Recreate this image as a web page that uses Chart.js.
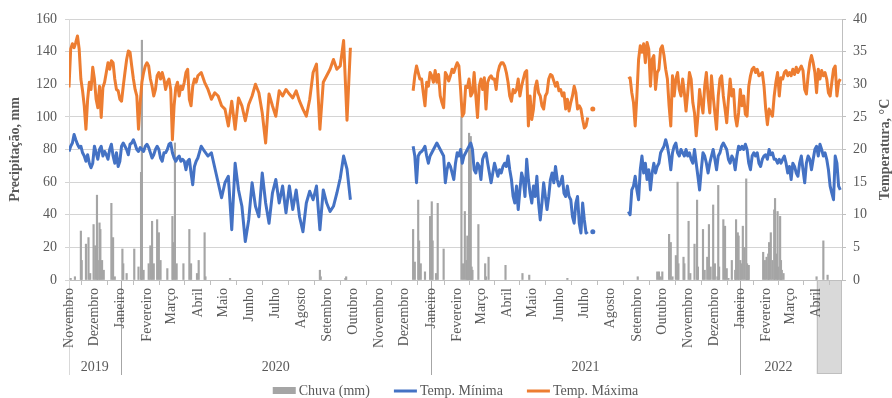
<!DOCTYPE html>
<html>
<head>
<meta charset="utf-8">
<script src="https://cdn.jsdelivr.net/npm/chart.js@4.4.1/dist/chart.umd.min.js"></script>
<style>
  html, body { margin: 0; padding: 0; background: #fff; }
  canvas { display: block; }
</style>
</head>
<body>
<canvas id="grafico" width="892" height="398"></canvas>
<script>
// dias de leitura a partir de 01/11/2019: [inicio, fim, passo]
const trechos = [[0, 152, 2], [156, 332, 4], [370, 370, 1], [406, 472, 2], [474, 612, 2], [616, 620, 2], [660, 790, 2], [792, 910, 2]];

// temperaturas máximas, °C (null = sem dados)
const tmax = [
  29.5, 35.4, 36.2, 35.6, 36.4, 37.4, 35.4, 30.8, 29, 26.7, 23.1, 27.7, 30.3, 29.2, 32.6, 30.8, 27.7, 26.4, 29.7, 24.9,
  29.5, 30.3, 31.8, 33.3, 32.3, 33.6, 33.3, 30.8, 29.2, 29, 27.7, 27.4, 29.7, 31.8, 33.8, 35.1, 34.9, 32.8, 30.8, 29.2,
  28.2, 23.1, 27.2, 30.3, 31.8, 32.8, 33.3, 32.8, 30.8, 29.7, 28.2, 29.2, 31.3, 31.8, 30.8, 31.8, 30.8, 29.2, 30.3, 30.8,
  29.2, 21.5, 26.7, 29.5, 30.3, 28.2, 29.7, 29.2, 30.3, 31.8, 32.3, 27.7, 26.7, 29.7, 30.8, 30.3, 31.3,
  // 2020, a cada 4 dias
  31.8, 30.3, 29.2, 27.7, 28.7, 28.2, 26.7, 26.2, 23.6, 27.4, 23.1, 27.9, 26.7, 24.4, 26.9, 28.2, 30, 28.7, 25.6, 21,
  28.5, 26.7, 25.1, 29, 28.2, 29.2, 28.5, 27.9, 29, 27.4, 26.2, 25.1, 27.7, 31.8, 33.1, 23.1, 30.3, 31.3, 32.3, 33.8,
  32.3, 32.8, 36.7, 24.5, 35.6,
  null,
  29, 31.3, 32.8, 31.8, 30.8, 30.8, 28.7, 26.7, 30.3, 29.7, 31.8, 31.3, 30.3, 32.1, 30.3, 31.5, 28.2, 27.2, 26.4, 31.8,
  31.3, 30.5, 31.3, 32.3, 31.8, 32.6, 33.3, 32.8, 29.2, 25.1, 25.6, 29.7, 29.5, 30.8,
  28.2, 28.7, 31.8, 28.2, 24.9, 29.7, 30.8, 29.2, 31, 26.2, 30.3, 31, 31.3, 30.8, 30.8, 29.2, 31.8, 32.8, 33.3, 33.3,
  32.8, 31.8, 30.3, 28.2, 27.4, 29.2, 28.7, 29.2, 30.8, 28.2, 29.7, 30.8, 31.8, 32.1, 23.6, 28.2, 24.6, 26.2, 29.5, 30.5,
  28.7, 28.2, 26.7, 26.2, 28.2, 28.7, 30.8, 31.5, 31.3, 30.5, 29.7, 30.3, 29, 29.2, 28.2, 28.7, 26.2, 27.7, 25.9, 27.2,
  28.2, 29.7, 28.7, 26.2, 26.7, 26.2, 24.6, 23.3, 23.6, 24.9,
  null, 26.2, null,
  30.8, 31, 28.7, 27.2, 23.6, 28.2, 33.8, 35.9, 34.9, 36.2, 33.3, 36.4, 35.4, 29.7, 33.8, 34.4, 29.2, 31.8, 32.3, 35.4,
  35.9, 34.4, 32.3, 30.8, 26.7, 23.6, 31.3, 28.2, 30.8, 31.8, 29.2, 28.2, 30.8, 28.7, 25.9, 28.7, 31.8, 30.8, 27.2, 25.6,
  22.1, 25.1, 29.2, 27.2, 25.6, 29.7, 31.8, 28.2, 25.6, 31.3, 28.2, 25.6, 23.1, 28.2, 30.8, 31.3, 28.2, 26.2, 24.1, 27.7,
  30.8, 28.2, 29.2, 25.1, 23.6, 25.6,
  29.2, 26.7, 28.2, 25.4, 25.1, 29.7, 31.3, 32.3, 32.6, 31.8, 32.3, 31.3, 31.5, 31.8, 29.7, 26.2, 23.8, 26.2, 25.6, 25.1,
  28.2, 30.3, 31.8, 28.2, 31, 30.8, 31.8, 32.1, 31.3, 31.8, 31.3, 32.3, 31.5, 32.6, 31.8, 32.3, 32.8, 32.1, 29.2, 28.5,
  31.3, 33.3, 34.4, 33.3, 31.8, 28.7, 32.3, 30.8, 32.1, 31.3, 31.8, 30.8, 28.7, 28.2, 30.3, 32.3, 32.8, 28.2, 30.3, 30.8
];

// temperaturas mínimas, °C
const tmin = [
  19.7, 20.5, 21, 22.3, 21.5, 20.8, 20.3, 20.5, 19.5, 19, 18.2, 19.2, 17.9, 17.2, 17.9, 20.5, 19.5, 18.5, 20, 20.5,
  19, 19.7, 19.2, 18.5, 20, 20.8, 19, 17.9, 19.5, 17.4, 18.2, 20.5, 21, 20.5, 20, 19.2, 20.8, 21, 21.5, 20.8,
  20, 19.7, 20.3, 20, 19.7, 20.5, 20.8, 20.3, 19.5, 18.7, 19.2, 20, 20.5, 20, 18.7, 18.2, 19.5, 19.5, 20, 20.8,
  21, 19.5, 18.7, 18.2, 18.7, 19, 18.2, 18.5, 18.2, 16.9, 18.2, 18.5, 16.4, 14.6, 17.4, 18.2, 18.7,
  20.5, 19.7, 19, 19.5, 17.2, 14.9, 12.6, 14.9, 15.9, 7.7, 17.9, 13.8, 11.3, 5.9, 9.2, 14.9, 11.3, 9.7, 16.4, 11.8,
  8.7, 13.3, 15.4, 11.8, 14.4, 10.3, 14.4, 10.8, 13.8, 9.7, 7.4, 11.8, 13.6, 12.3, 14.4, 7.7, 13.8, 11.8, 10.5, 11.3,
  13.3, 15.6, 19, 17, 12.3,
  null,
  20.5, 19, 14.9, 19, 19.5, 19.7, 20, 20.5, 19, 17.9, 19, 19.5, 20, 20.5, 21, 20.5, 20, 19.5, 19, 14.9,
  16.9, 17.9, 17.4, 16.4, 15.4, 17.9, 19.5, 19, 20, 17.9, 19, 19.5, 20, 20.5,
  21, 20, 16.9, 16.4, 17.9, 17.4, 15.4, 18.5, 19.2, 19.5, 17.9, 16.4, 14.9, 16.4, 17.9, 16.9, 15.9, 16.9, 16.4, 17.4,
  17.9, 17.4, 19, 16.9, 15.4, 12.8, 11.8, 14.4, 10.8, 13.8, 16.4, 15.4, 12.8, 18.5, 15.4, 13.3, 11.8, 14.4, 12.8, 15.9,
  11.8, 9.2, 11.8, 14.9, 12.8, 10.8, 12.8, 15.4, 16.4, 14.9, 17.4, 15.4, 14.4, 14.9, 15.9, 13.3, 12.8, 14.4, 12.8, 12.3,
  9.7, 8.7, 11.8, 12.8, 8.7, 7.2, 11.8, 9.2, 7.2, 7.4,
  null, 7.4, null,
  10.5, 10, 13.8, 14.4, 15.9, 13.8, 12.3, 16.9, 19, 16.4, 17.9, 15.4, 16.9, 13.8, 16.4, 17.9, 16.4, 17.4, 17.9, 19.5,
  20, 20.5, 21.5, 20.5, 19, 16.9, 19.5, 20.5, 21, 19.5, 19, 20, 19.5, 19, 20, 19, 19.5, 18.5, 17.9, 20,
  17.9, 15.9, 13.8, 16.9, 19.5, 19, 17.9, 16.4, 17.9, 19, 20, 18.5, 16.9, 19, 19.5, 20.5, 21, 20.5, 20, 18.5,
  17.9, 19, 18.5, 16.9, 19, 20.5,
  20, 20.5, 20, 20.8, 20, 17.9, 16.9, 19, 19.5, 19, 19.5, 17.9, 17.4, 18.5, 19, 19.2, 18.5, 20, 19.2, 19.5,
  18.5, 18.5, 17.9, 18.5, 17.9, 18.5, 19, 17.9, 16.4, 17.4, 15.4, 17.9, 17.4, 16.4, 15.9, 17.9, 19, 16.9, 14.9, 17.9,
  19, 18.5, 16.9, 18.5, 20, 20.5, 19, 20.8, 20, 19, 19.5, 18.5, 16.9, 14.4, 13.3, 12.3, 19, 17.9, 14.4, 13.8
];

// chuva: dia (a partir de 01/11/2019) e milímetros
const chuvaDias = [
  2, 7, 14, 15, 20, 23, 25, 29, 31, 33, 34, 36, 37, 39, 41, 50, 52, 54, 63, 64,
  68, 77, 82, 85, 86, 88, 94, 96, 98, 100, 104, 106, 108, 116, 122, 123, 125, 127, 135, 142,
  144, 151, 153, 160, 161, 190, 296, 297, 326, 327,
  406, 408, 412, 413, 415, 420, 426, 428, 429, 433, 435, 442, 463, 465, 467, 469, 470, 471, 472, 473,
  474, 475, 476, 483, 491, 492, 495, 515, 535, 543, 588,
  671, 694, 696, 698, 700, 708, 710, 712, 716, 718, 719, 725, 726, 731, 733, 738, 741, 742, 748, 750,
  753, 755, 757, 760, 762, 765, 766, 767, 772, 774, 776, 778, 782, 786, 787, 789, 790, 792, 793, 795,
  797, 799, 800, 801, 802, 819, 821, 823, 825, 826, 828, 830, 832, 833, 835, 836, 837, 839, 840, 841,
  843, 882, 890, 895
];
const chuvaMm = [
  1, 2, 30, 12, 22, 26, 4, 34, 21, 52, 12, 35, 31, 12, 6, 47, 26, 2, 19, 10,
  4, 19, 8, 66, 147, 6, 10, 21, 36, 10, 37, 29, 12, 7, 39, 23, 84, 10, 10, 31,
  10, 4, 12, 29, 2, 1, 6, 2, 1, 2,
  31, 11, 49, 24, 10, 5, 39, 48, 24, 4, 47, 19, 100, 10, 42, 12, 27, 25, 90, 39,
  88, 8, 6, 34, 10, 2, 14, 9, 4, 3, 1,
  2, 5, 5, 2, 5, 28, 23, 2, 15, 60, 10, 14, 10, 36, 4, 22, 49, 8, 31, 6,
  14, 34, 8, 46, 10, 2, 58, 8, 37, 33, 7, 1, 12, 6, 37, 29, 27, 12, 10, 33,
  20, 62, 10, 8, 9, 17, 12, 14, 16, 23, 29, 12, 43, 50, 16, 42, 8, 39, 12, 6,
  4, 2, 24, 3
];

const mesNomes = ['Novembro', 'Dezembro', 'Janeiro', 'Fevereiro', 'Março', 'Abril', 'Maio', 'Junho', 'Julho', 'Agosto',
  'Setembro', 'Outubro', 'Novembro', 'Dezembro', 'Janeiro', 'Fevereiro', 'Março', 'Abril', 'Maio', 'Junho',
  'Julho', 'Agosto', 'Setembro', 'Outubro', 'Novembro', 'Dezembro', 'Janeiro', 'Fevereiro', 'Março', 'Abril'];
const anos = ['2019', '2020', '2021', '2022'];
const anosMes = [0, 2, 14, 26, 29]; // mês onde cada ano começa (último = fim do grupo 2022)

const inicio = Date.UTC(2019, 10, 1);
const mesDias = mesNomes.map((_, i) => (Date.UTC(2019, 10 + i, 1) - inicio) / 864e5);
const dias = trechos.flatMap(([a, b, p]) => Array.from({ length: (b - a) / p + 1 }, (_, i) => a + i * p));

const serif = "'Liberation Serif', 'Times New Roman', serif";
const cinza = '#595959';
Chart.defaults.font.family = serif;
Chart.defaults.font.size = 14;
Chart.defaults.color = cinza;

// ponto sozinho entre falhas aparece como um pontinho
function pontoIsolado(c) {
  const d = c.dataset.data, i = c.dataIndex;
  const vazio = p => !p || p.y === null;
  return !vazio(d[i]) && vazio(d[i - 1]) && vazio(d[i + 1]) ? 2.5 : 0;
}

const extras = {
  id: 'extras',
  beforeDraw(chart) {
    const { ctx, chartArea: a, scales: { x } } = chart;
    ctx.save();
    // caixa cinza de abril/2022
    const x0 = x.getPixelForValue(mesDias[29]);
    ctx.fillStyle = '#D9D9D9';
    ctx.fillRect(x0, a.bottom, a.right - 1 - x0, 94);
    ctx.strokeStyle = '#BFBFBF';
    ctx.lineWidth = 1;
    ctx.strokeRect(Math.round(x0) + 0.5, a.bottom + 0.5, a.right - 1 - Math.round(x0), 93);
    // separadores de ano
    anosMes.slice(0, 4).forEach((m, k) => {
      const px = Math.round(x.getPixelForValue(mesDias[m])) + 0.5;
      ctx.strokeStyle = k === 0 ? '#D9D9D9' : '#A6A6A6';
      ctx.beginPath();
      ctx.moveTo(px, a.bottom);
      ctx.lineTo(px, a.bottom + 95);
      ctx.stroke();
    });
    ctx.restore();
  },
  afterDraw(chart) {
    const { ctx, chartArea: a, scales: { x } } = chart;
    ctx.save();
    ctx.font = '14px ' + serif;
    ctx.fillStyle = cinza;
    ctx.textAlign = 'center';
    ctx.textBaseline = 'middle';
    anos.forEach((ano, k) => {
      const c = (x.getPixelForValue(mesDias[anosMes[k]]) + x.getPixelForValue(mesDias[anosMes[k + 1]])) / 2;
      ctx.fillText(ano, c, a.bottom + 87);
    });

    // legenda
    const itens = [
      { texto: 'Chuva (mm)', cor: '#A5A5A5', caixa: true },
      { texto: 'Temp. Mínima', cor: '#4472C4' },
      { texto: 'Temp. Máxima', cor: '#ED7D31' }
    ];
    const simb = 23, gap = 3, entre = 24;
    const larg = itens.map(it => ctx.measureText(it.texto).width);
    const total = larg.reduce((s, w) => s + simb + gap + w, 0) + entre * 2;
    let px = (a.left + a.right) / 2 - total / 2;
    const py = 391;
    ctx.textAlign = 'left';
    itens.forEach((it, i) => {
      if (it.caixa) {
        ctx.fillStyle = it.cor;
        ctx.fillRect(px, py - 4, simb, 7);
      } else {
        ctx.strokeStyle = it.cor;
        ctx.lineWidth = 3;
        ctx.beginPath();
        ctx.moveTo(px, py);
        ctx.lineTo(px + simb, py);
        ctx.stroke();
      }
      ctx.fillStyle = cinza;
      ctx.fillText(it.texto, px + simb + gap, py);
      px += simb + gap + larg[i] + entre;
    });

    // título do eixo da direita
    ctx.font = 'bold 14px ' + serif;
    ctx.textAlign = 'center';
    ctx.translate(885, (a.top + a.bottom) / 2);
    ctx.rotate(-Math.PI / 2);
    ctx.fillText('Temperatura, °C', 0, 0);
    ctx.restore();
  }
};

const ctx = document.getElementById('grafico').getContext('2d');

const myChart = new Chart(ctx, {
  type: 'line',
  data: {
    datasets: [{
      type: 'bar',
      label: 'Chuva (mm)',
      data: chuvaDias.map((d, i) => ({ x: d, y: chuvaMm[i] })),
      backgroundColor: '#A5A5A5',
      barThickness: 1.5,
      yAxisID: 'y',
      order: 3
    }, {
      label: 'Temp. Mínima',
      data: tmin.map((v, i) => ({ x: dias[i], y: v })),
      borderColor: '#4472C4',
      backgroundColor: '#4472C4',
      borderWidth: 3,
      borderJoinStyle: 'round',
      pointRadius: pontoIsolado,
      pointBorderWidth: 0,
      yAxisID: 'y1',
      order: 1
    }, {
      label: 'Temp. Máxima',
      data: tmax.map((v, i) => ({ x: dias[i], y: v })),
      borderColor: '#ED7D31',
      backgroundColor: '#ED7D31',
      borderWidth: 3,
      borderJoinStyle: 'round',
      pointRadius: pontoIsolado,
      pointBorderWidth: 0,
      yAxisID: 'y1',
      order: 2
    }]
  },
  options: {
    responsive: false,
    animation: false,
    events: [],
    layout: { padding: { left: 0, right: 0, top: 19, bottom: 23 } },
    plugins: {
      legend: { display: false },
      tooltip: { enabled: false }
    },
    scales: {
      x: {
        type: 'linear',
        min: 0,
        max: 912,
        offset: false,
        afterBuildTicks: s => { s.ticks = mesDias.map(v => ({ value: v })); },
        afterFit: s => { s.height = 95; },
        ticks: {
          autoSkip: false,
          minRotation: 90,
          maxRotation: 90,
          padding: 3,
          callback: (v, i) => mesNomes[i]
        },
        grid: { drawOnChartArea: false, tickLength: 5, color: '#BFBFBF' },
        border: { color: '#BFBFBF' }
      },
      y: {
        position: 'left',
        min: 0,
        max: 160,
        afterFit: s => { s.width = 69; },
        ticks: { stepSize: 20, padding: 8 },
        grid: { color: '#D4D4D4', tickLength: 4 },
        border: { color: '#D9D9D9' },
        title: {
          display: true,
          text: 'Precipitação, mm',
          font: { weight: 'bold', size: 14 },
          padding: { top: 7, bottom: 0 }
        }
      },
      y1: {
        position: 'right',
        min: 0,
        max: 40,
        afterFit: s => { s.width = 50; },
        ticks: { stepSize: 5, padding: 7 },
        grid: { drawOnChartArea: false, tickLength: 4, color: '#BFBFBF' },
        border: { color: '#BFBFBF' }
      }
    }
  },
  plugins: [extras]
});
</script>
</body>
</html>
